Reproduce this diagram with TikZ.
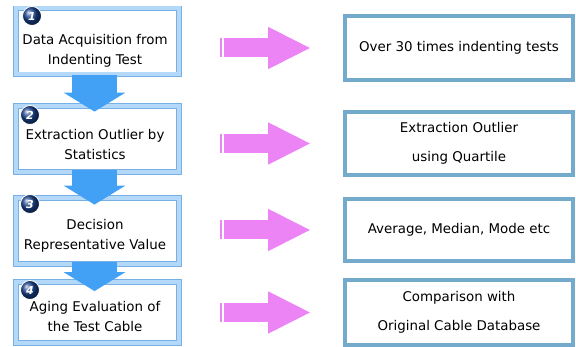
\documentclass[tikz,border=0pt]{standalone}
\usepackage{fontspec}
\setmainfont{DejaVu Sans}
\usepackage{tikz}
\usetikzlibrary{arrows.meta, calc, shadings}
\definecolor{framelight}{RGB}{180, 216, 247}
\definecolor{frameline}{RGB}{120, 176, 230}
\definecolor{resultblue}{RGB}{116, 170, 204}
\definecolor{flowblue}{RGB}{66, 160, 245}
\definecolor{pinkarrow}{RGB}{236, 132, 246}
\definecolor{badgeblue}{RGB}{24, 66, 140}

\tikzset{
  stagebox/.style={draw=frameline, double=framelight, double distance=4pt, line width=0.8pt, fill=white, minimum width=163pt, minimum height=66pt, inner sep=0pt},
  stagetext/.style={align=center, font=\fontsize{13.4}{20}\selectfont},
  resultbox/.style={draw=resultblue, line width=4pt, fill=white, minimum width=228pt, minimum height=63pt, align=center, font=\fontsize{13.4}{29}\selectfont},
  badge/.style={circle, ball color=badgeblue, draw=white, line width=0.8pt, minimum size=19pt, inner sep=0pt, font=\fontsize{11}{11}\selectfont\bfseries\itshape, text=white},
  flowarrow/.style={flowblue, line width=45pt, -{Triangle[width=61pt, length=19pt]}},
  sidearrow/.style={pinkarrow, line width=19pt, -{Triangle[width=39pt, length=43pt]}}
}

\begin{document}
\begin{tikzpicture}[x=1pt, y=-1pt]
        \useasboundingbox (0, 0) rectangle (576, 347);

        % Process steps on the left
        \node[stagebox] (s1) at (97.5, 41.5) {};
        \node[stagebox] (s2) at (97.5, 139) {};
        \node[stagebox] (s3) at (97.5, 231) {};
        \node[stagebox, minimum height=61pt] (s4) at (97.5, 312.5) {};

        % Results on the right
        \node[resultbox, minimum height=64pt] (r1) at (459, 48) {Over 30 times indenting tests};
        \node[resultbox] (r2) at (459, 143.5) {Extraction Outlier\\using Quartile};
        \node[resultbox, minimum height=62pt] (r3) at (459, 230) {Average, Median, Mode etc};
        \node[resultbox, minimum height=65pt] (r4) at (459, 312.5) {Comparison with\\Original Cable Database};

        % Flow between steps
        \draw[flowarrow] ($(s1.south)+(-3, 0)$) -- ($(s2.north)+(-3, 6)$);
        \draw[flowarrow] ($(s2.south)+(-3, -2)$) -- ($(s3.north)+(-3, 7)$);
        \draw[flowarrow] ($(s3.south)+(-3, -2)$) -- ($(s4.north)+(-3, 9.5)$);

        % Step texts
        \node[stagetext] (t1) at (95, 51) {Data Acquisition from\\Indenting Test};
        \node[stagetext] (t2) at (95, 145) {Extraction Outlier by\\Statistics};
        \node[stagetext] (t3) at (95, 236) {Decision\\Representative Value};
        \node[stagetext] (t4) at (95, 317) {Aging Evaluation of\\the Test Cable};

        % Step numbers
        \node[badge] (b1) at (32, 16) {1};
        \node[badge] (b2) at (30, 115) {2};
        \node[badge] (b3) at (30, 204) {3};
        \node[badge] (b4) at (30, 290) {4};

        % Arrows to the results
        \draw[sidearrow, shorten <=41pt, shorten >=32pt] (s1.east |- r1.west) -- (r1.west);
        \draw[sidearrow, shorten <=41pt, shorten >=32pt] (s2.east |- r2.west) -- (r2.west);
        \draw[sidearrow, shorten <=41pt, shorten >=32pt] (s3.east |- r3.west) -- (r3.west);
        \draw[sidearrow, shorten <=41pt, shorten >=32pt] (s4.east |- r4.west) -- (r4.west);
        \draw[white, line width=2pt] ($(s1.east |- r1.west)+(44, -9.5)$) -- +(0, 19);
        \draw[white, line width=2pt] ($(s2.east |- r2.west)+(44, -9.5)$) -- +(0, 19);
        \draw[white, line width=2pt] ($(s3.east |- r3.west)+(44, -9.5)$) -- +(0, 19);
        \draw[white, line width=2pt] ($(s4.east |- r4.west)+(44, -9.5)$) -- +(0, 19);
    \end{tikzpicture}
\end{document}
